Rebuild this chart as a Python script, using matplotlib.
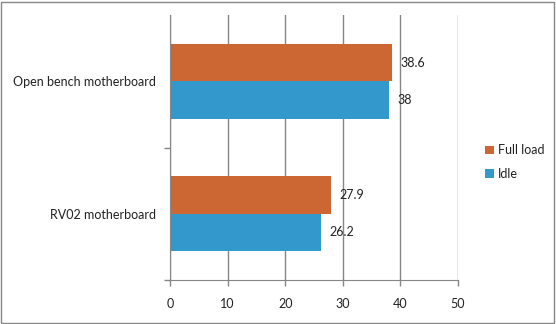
import numpy as np
import matplotlib.pyplot as plt
from matplotlib.patches import Rectangle

plt.rcParams['font.family'] = ['Lato', 'DejaVu Sans']

categories = ['RV02 motherboard', 'Open bench motherboard']
idle = [26.2, 38]
full_load = [27.9, 38.6]
xticks = [0, 10, 20, 30, 40, 50]

c_full = '#CC6633'
c_idle = '#3399CC'
c_grid = '#868686'

fig = plt.figure(figsize=(5.56, 3.24), dpi=100)
ax = fig.add_axes([170/556, 1-280/324, 288/556, 265/324])

y = np.arange(len(categories)) + 0.5
h = 0.283
ax.barh(y - h/2, idle, height=h, color=c_idle, label='Idle', zorder=3)
ax.barh(y + h/2, full_load, height=h, color=c_full, label='Full load', zorder=3)

for yi, v in zip(y, idle):
    ax.annotate(f'{v:g}', (v, yi - h/2), xytext=(6, 0), textcoords='offset points',
                va='center', ha='left', fontsize=9, color='#222222')
for yi, v in zip(y, full_load):
    ax.annotate(f'{v:g}', (v, yi + h/2), xytext=(6, 0), textcoords='offset points',
                va='center', ha='left', fontsize=9, color='#222222')

ax.set_xlim(0, 50)
ax.set_ylim(0, 2)
ax.set_xticks(xticks)
# category separators only below each group
ax.set_yticks([0, 1])
ax.set_yticklabels([])
ax.set_yticks(y, minor=True)
ax.set_yticklabels(categories, minor=True, fontsize=9, color='#222222')
ax.tick_params(axis='y', which='minor', length=0, pad=10)
ax.tick_params(axis='y', which='major', length=4, color=c_grid, width=1)
ax.tick_params(axis='x', length=4, color=c_grid, width=1, labelsize=9,
               labelcolor='#222222', pad=9)

ax.grid(axis='x', color=c_grid, linewidth=1, zorder=0)
for s in ['top', 'right']:
    ax.spines[s].set_visible(False)
for s in ['left', 'bottom']:
    ax.spines[s].set_color(c_grid)
    ax.spines[s].set_zorder(4)

handles, labels = ax.get_legend_handles_labels()
fig.legend(handles[::-1], labels[::-1], loc='center left',
           bbox_to_anchor=(474/556, 1-162/324), frameon=False, fontsize=9,
           handlelength=0.7, handleheight=0.7, handletextpad=0.3,
           labelspacing=0.9, labelcolor='#222222')

fig.patches.append(Rectangle((1/556, 1/324), 553/556, 321/324, transform=fig.transFigure,
                             fill=False, edgecolor=c_grid, linewidth=1))

fig.savefig('out.png', dpi=100)
